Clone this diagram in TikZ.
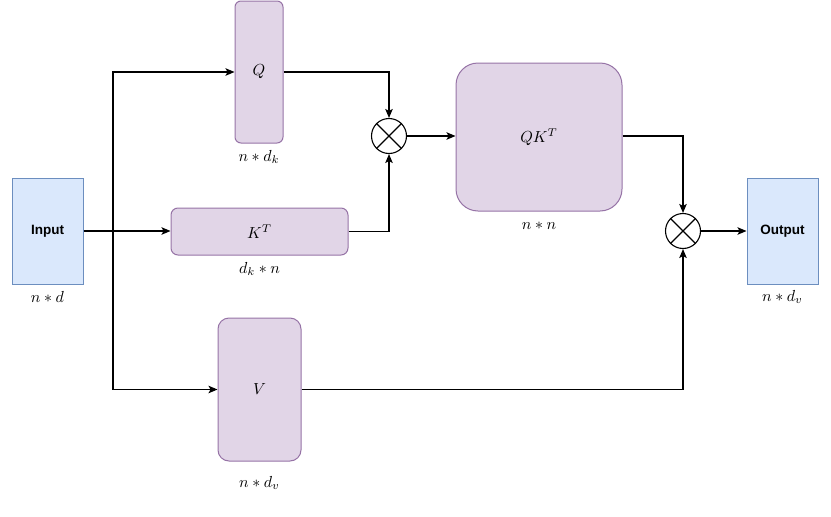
\documentclass[tikz,border=0pt]{standalone}
\usepackage{fontspec}
\newfontfamily\labelsans{Liberation Sans}
\usetikzlibrary{arrows.meta}
\definecolor{pfill}{HTML}{E1D5E7}
\definecolor{pdraw}{HTML}{9673A6}
\definecolor{bfill}{HTML}{DAE8FC}
\definecolor{bdraw}{HTML}{6C8EBF}
\newcommand{\mtxt}[1]{\scalebox{1.6}{$#1$}}
\tikzset{
  pbox/.style={draw=pdraw, fill=pfill, line width=1pt, inner sep=0pt},
  bbox/.style={draw=bdraw, fill=bfill, line width=1pt, inner sep=0pt, font=\labelsans\bfseries\fontsize{13.5}{16}\selectfont},
  dimlabel/.style={inner sep=0pt},
  mult/.style={circle, draw=black, line width=1.1pt, fill=white, minimum size=35pt, inner sep=0pt},
  arr/.style={draw=black, line width=1.1pt, -{Stealth[length=9pt,width=7.5pt,inset=2pt]}}
}
\begin{document}
\begin{tikzpicture}[x=1pt,y=-1pt]
\useasboundingbox (0,0) rectangle (831,517);
% boxes
\node[bbox, minimum width=71pt, minimum height=106pt] (in) at (47.5,231) {Input};
\node[pbox, rounded corners=6pt, minimum width=48pt, minimum height=142pt] (q) at (259,72) {\mtxt{Q}};
\node[pbox, rounded corners=7pt, minimum width=177pt, minimum height=47pt] (kt) at (259.5,231.5) {\mtxt{K^T}};
\node[pbox, rounded corners=11pt, minimum width=83pt, minimum height=143pt] (v) at (259.5,389.5) {\mtxt{V}};
\node[pbox, rounded corners=22pt, minimum width=166pt, minimum height=148pt] (qkt) at (539,137) {\mtxt{QK^T}};
\node[bbox, minimum width=71pt, minimum height=106pt] (out) at (782.5,231) {Output};
% multiply circles
\node[mult] (m1) at (389,136) {};
\draw[line width=1.1pt] (m1.north west) -- (m1.south east) (m1.north east) -- (m1.south west);
\node[mult] (m2) at (683,231) {};
\draw[line width=1.1pt] (m2.north west) -- (m2.south east) (m2.north east) -- (m2.south west);
% dimension labels
\node[dimlabel] (lin) at (47.5,297) {\mtxt{n*d}};
\node[dimlabel] (lq) at (259,157) {\mtxt{n*d_k}};
\node[dimlabel] (lkt) at (259.5,269) {\mtxt{d_k*n}};
\node[dimlabel] (lqkt) at (539,226) {\mtxt{n*n}};
\node[dimlabel] (lout) at (782.5,297) {\mtxt{n*d_v}};
\node[dimlabel] (lv) at (259.5,483) {\mtxt{n*d_v}};
% connectors
\coordinate (split) at (113,231);
\draw[arr] (in.east) -- (kt.west |- in.east);
\draw[arr] (split) |- (q.west);
\draw[arr] (split) |- (v.west);
\draw[arr] (q.east) -| (m1.north);
\draw[arr] (kt.east) -| (m1.south);
\draw[arr] (m1.east) -- (qkt.west |- m1.east);
\draw[arr] (qkt.east |- m1.east) -| (m2.north);
\draw[arr] (v.east) -| (m2.south);
\draw[arr] (m2.east) -- (out.west |- m2.east);
\end{tikzpicture}
\end{document}
